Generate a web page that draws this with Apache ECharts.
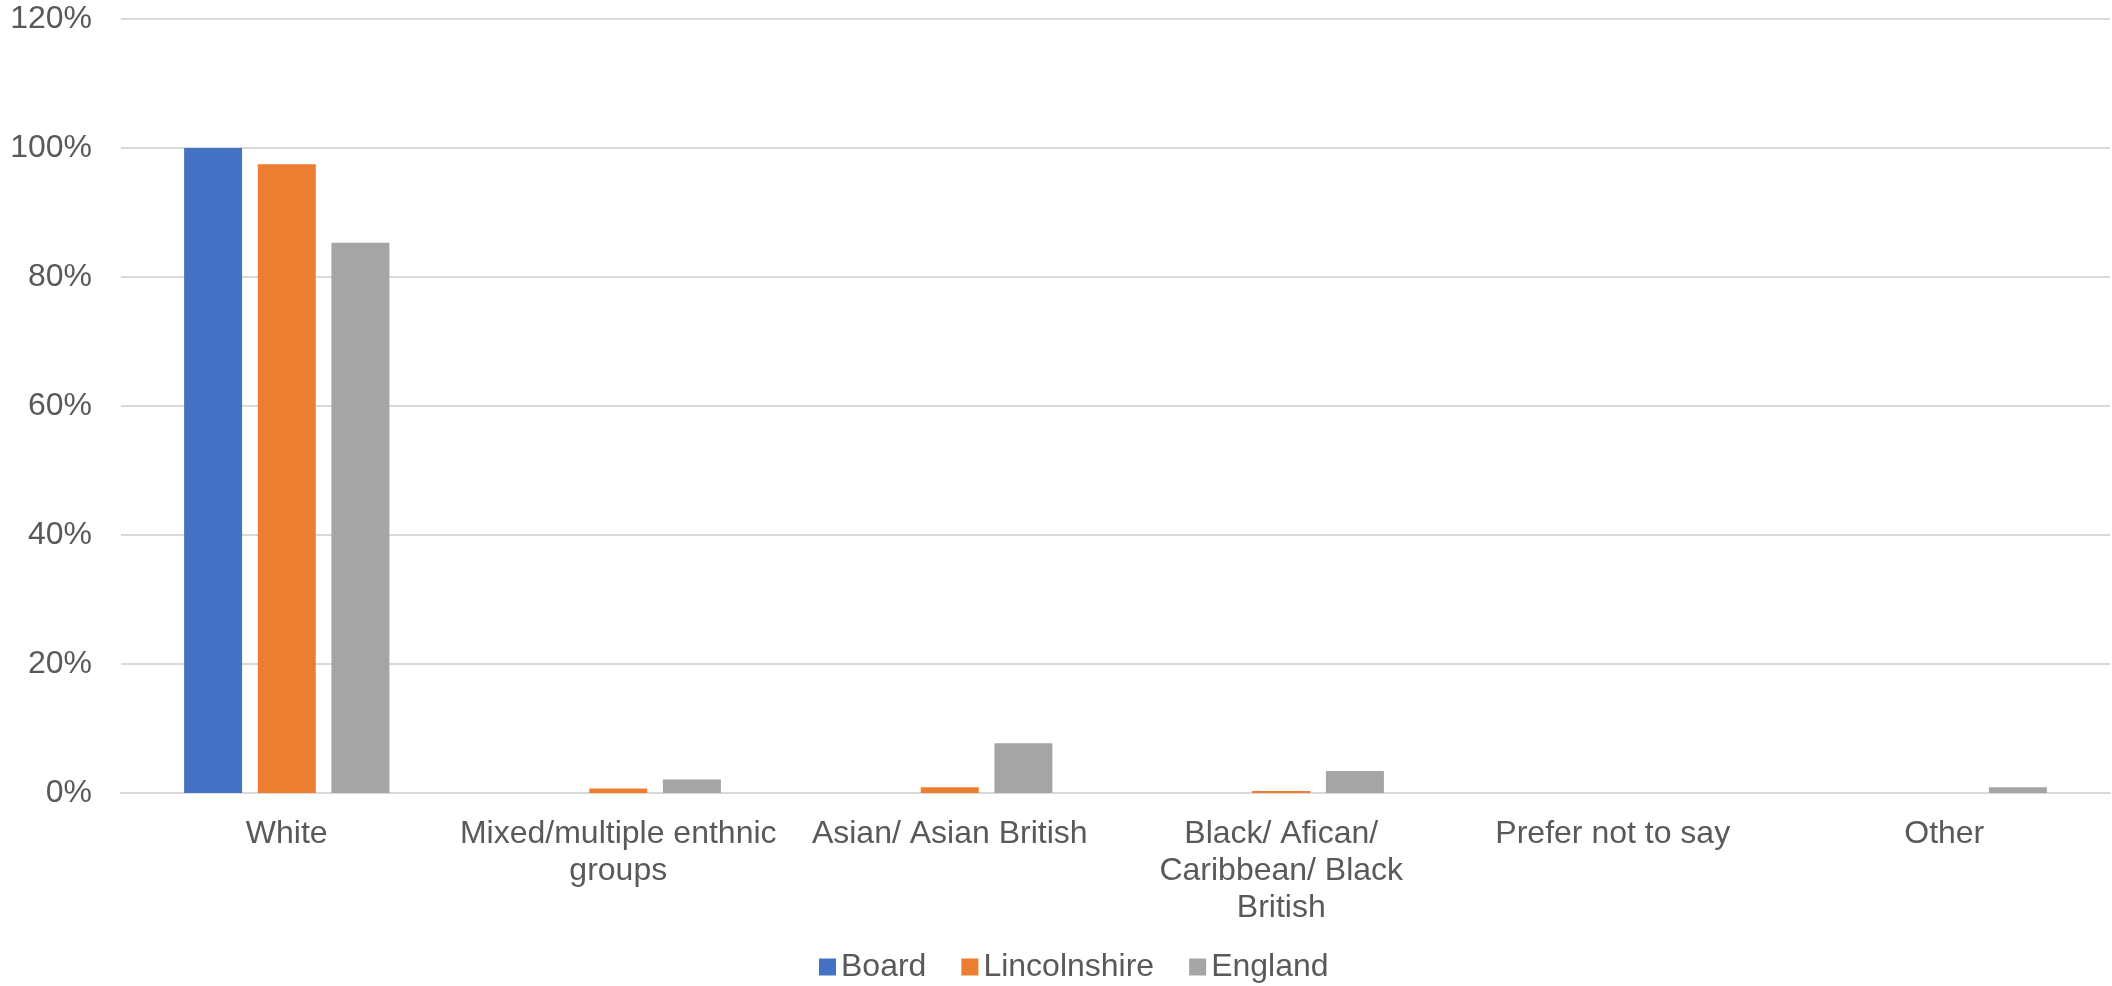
<!DOCTYPE html>
<html>
<head>
<meta charset="utf-8">
<script src="https://cdn.jsdelivr.net/npm/echarts@6/dist/echarts.min.js"></script>
<style>
html,body{margin:0;padding:0;background:#fff;}
#chart{width:2112px;height:986px;}
</style>
</head>
<body>
<div id="chart"></div>
<script>
var categories = [
  'White',
  'Mixed/multiple enthnic\ngroups',
  'Asian/ Asian British',
  'Black/ Afican/\nCaribbean/ Black\nBritish',
  'Prefer not to say',
  'Other'
];
var seriesNames = ['Board', 'Lincolnshire', 'England'];
var board = [100, 0, 0, 0, 0, 0];
var lincolnshire = [97.5, 0.7, 0.9, 0.3, 0, 0];
var england = [85.3, 2.1, 7.7, 3.4, 0, 0.9];
var yTicks = [0, 20, 40, 60, 80, 100, 120];

var colors = ['#4472C4', '#ED7D31', '#A5A5A5'];
var font = 'Liberation Sans, Arial, sans-serif';
var textColor = '#595959';

var chart = echarts.init(document.getElementById('chart'));
function mk(name, data, i) {
  return {
    name: name,
    type: 'bar',
    data: data,
    barWidth: 58,
    barGap: '27%',
    itemStyle: { color: colors[i] },
    animation: false
  };
}
chart.setOption({
  animation: false,
  color: colors,
  grid: { left: 121, right: 2, top: 19, height: 774, containLabel: false },
  legend: {
    data: seriesNames,
    bottom: -2,
    left: 814,
    itemWidth: 17,
    itemHeight: 17,
    itemGap: 35,
    icon: 'rect',
    textStyle: { fontFamily: font, fontSize: 32, color: textColor, padding: [0, 0, 0, 0] }
  },
  xAxis: {
    type: 'category',
    data: categories,
    axisLine: { lineStyle: { color: '#d9d9d9', width: 2 } },
    axisTick: { show: false },
    axisLabel: {
      interval: 0,
      margin: 23,
      fontFamily: font,
      fontSize: 32,
      lineHeight: 37,
      color: textColor,
      align: 'center'
    }
  },
  yAxis: {
    type: 'value',
    min: yTicks[0],
    max: yTicks[yTicks.length - 1],
    interval: 20,
    axisLine: { show: false },
    axisTick: { show: false },
    splitLine: { lineStyle: { color: '#d9d9d9', width: 2 } },
    axisLabel: {
      formatter: '{value}%',
      margin: 29,
      fontFamily: font,
      fontSize: 32,
      color: textColor
    }
  },
  series: [
    mk(seriesNames[0], board, 0),
    mk(seriesNames[1], lincolnshire, 1),
    mk(seriesNames[2], england, 2)
  ]
});
</script>
</body>
</html>
